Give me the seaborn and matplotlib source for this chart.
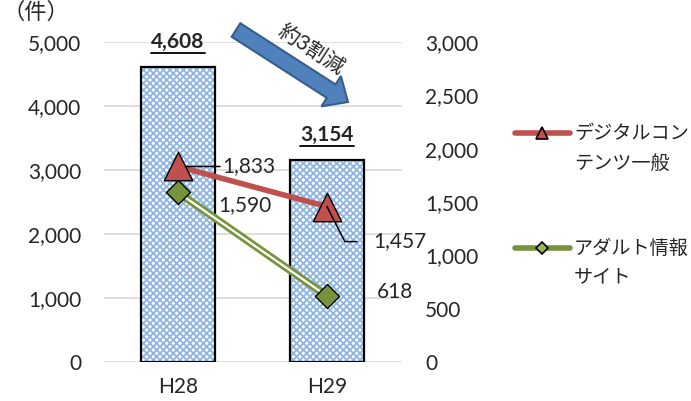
import matplotlib
matplotlib.use("Agg")
import matplotlib.pyplot as plt
from matplotlib.patches import FancyArrow
from matplotlib.lines import Line2D
import numpy as np
import pandas as pd
import seaborn as sns

# Data
years = ["H28", "H29"]
totals = [4608, 3154]             # total consultations (left axis)
digital = [1833, 1457]            # digital content in general (right axis)
adult = [1590, 618]               # adult information sites (right axis)
total_labels = ["4,608", "3,154"]
digital_labels = ["1,833", "1,457"]
adult_labels = ["1,590", "618"]
left_ticks = [0, 1000, 2000, 3000, 4000, 5000]
right_ticks = [0, 500, 1000, 1500, 2000, 2500, 3000]

sns.set_style("white")
plt.rcParams["font.family"] = ["Lato", "Noto Sans CJK JP", "DejaVu Sans"]
plt.rcParams["hatch.linewidth"] = 1.3

RED = "#C0504D"
GREEN = "#77933C"
HATCH_BLUE = "#8EB4E3"
FS = 15

W, H = 691, 401
fig = plt.figure(figsize=(W / 100, H / 100), dpi=100)
ax = fig.add_axes([103.5 / W, 1 - 362 / H, 298 / W, 320 / H])

df = pd.DataFrame({"year": years, "total": totals})

# Hatched bar fill, then a black outline on top
sns.barplot(data=df, x="year", y="total", ax=ax, order=years, width=0.5,
            color="white", edgecolor=HATCH_BLUE, linewidth=0, hatch="xxxxx",
            errorbar=None, zorder=2)
sns.barplot(data=df, x="year", y="total", ax=ax, order=years, width=0.5,
            fill=False, edgecolor="black", linewidth=1.6,
            errorbar=None, zorder=3)

ax.set_xlim(-0.5, 1.5)
ax.set_ylim(0, 5000)
ax.set_yticks(left_ticks)
ax.set_yticklabels([f"{v:,}" for v in left_ticks])
ax.set_xlabel("")
ax.set_ylabel("")
ax.grid(axis="y", color="#D9D9D9", linewidth=1.2, zorder=0)
ax.set_axisbelow(True)
for s in ax.spines.values():
    s.set_visible(False)
ax.tick_params(axis="y", length=0, pad=16, labelsize=FS)
ax.tick_params(axis="x", length=0, pad=11, labelsize=FS)

# Bar totals above each bar
total_texts = []
for i, (v, lab) in enumerate(zip(totals, total_labels)):
    t = ax.annotate(lab, xy=(i, v), xytext=(0, 25), textcoords="offset pixels",
                    ha="center", va="center", fontsize=FS, fontweight="bold")
    total_texts.append(t)

# Secondary axis with the two series
ax2 = ax.twinx()
pos = np.arange(len(years))
sns.lineplot(x=pos, y=digital, ax=ax2, color=RED, linewidth=4, zorder=3)
sns.lineplot(x=pos, y=adult, ax=ax2, color=GREEN, linewidth=5.5, zorder=3)
sns.lineplot(x=pos, y=adult, ax=ax2, color="white", linewidth=1.6, zorder=4)
sns.scatterplot(x=pos, y=digital, ax=ax2, marker="^", s=420, color=RED,
                edgecolor="black", linewidth=1, zorder=6)
sns.scatterplot(x=pos, y=adult, ax=ax2, marker="D", s=150, color=GREEN,
                edgecolor="black", linewidth=1, zorder=6)
ax2.set_xlim(-0.5, 1.5)
ax2.set_ylim(0, 3000)
ax2.set_yticks(right_ticks)
ax2.set_yticklabels([f"{v:,}" for v in right_ticks])
ax2.set_ylabel("")
for s in ax2.spines.values():
    s.set_visible(False)
ax2.tick_params(axis="y", length=0, pad=17, labelsize=FS)

lab_kw = dict(textcoords="offset pixels", fontsize=FS, va="center", ha="left", zorder=7)
leader = dict(arrowstyle="-", color="black", lw=1.1, shrinkA=0, shrinkB=0)

# Digital content labels with leader lines
ax2.annotate("", xy=(0, digital[0]), xytext=(42, 0), textcoords="offset pixels",
             arrowprops=leader, zorder=5)
ax2.annotate(digital_labels[0], xy=(0, digital[0]), xytext=(44, 0), **lab_kw)
ax2.annotate("", xy=(1, digital[1]), xytext=(30, -35), textcoords="offset pixels",
             arrowprops=dict(leader, connectionstyle="angle,angleA=0,angleB=-63,rad=0"),
             zorder=7)
ax2.annotate(digital_labels[1], xy=(1, digital[1]), xytext=(46, -35), **lab_kw)

# Adult site labels
ax2.annotate(adult_labels[0], xy=(0, adult[0]), xytext=(40, -13), **lab_kw)
ax2.annotate(adult_labels[1], xy=(1, adult[1]), xytext=(50, 4), **lab_kw)

# Overlay in pixel coordinates for the arrow, unit, legend
ov = fig.add_axes([0, 0, 1, 1])
ov.set_xlim(0, W)
ov.set_ylim(H, 0)
ov.axis("off")
ov.patch.set_alpha(0)

ov.text(2, 12, "（件）", fontsize=16, ha="left", va="center")

ov.add_patch(FancyArrow(236, 30, 112, 72, width=16, head_width=36, head_length=20,
                        length_includes_head=True, facecolor="#4F81BD",
                        edgecolor="#385D8A", linewidth=1.5))
ov.text(311, 50, "約3割減", fontsize=15, rotation=-33, rotation_mode="anchor",
        ha="center", va="center")

# Legend
LFS = 13.8
ov.add_line(Line2D([515, 570], [133, 133], color=RED, linewidth=4,
                   solid_capstyle="round"))
ov.plot([542], [133], marker="^", ms=8, color=RED, mec="black", mew=1.2)
ov.text(574, 133, "デジタルコン", fontsize=LFS, va="center")
ov.text(574, 163, "テンツ一般", fontsize=LFS, va="center")
ov.add_line(Line2D([515, 570], [248, 248], color=GREEN, linewidth=4,
                   solid_capstyle="round"))
ov.plot([542], [248], marker="D", ms=6, color="#9BBB59", mec="black", mew=1.2)
ov.text(574, 248, "アダルト情報", fontsize=LFS, va="center")
ov.text(574, 277, "サイト", fontsize=LFS, va="center")

# Underline the bar totals
fig.canvas.draw()
r = fig.canvas.get_renderer()
for t in total_texts:
    bb = t.get_window_extent(r)
    y = H - bb.y0 + 1
    ov.add_line(Line2D([bb.x0, bb.x1], [y, y], color="black", linewidth=1.3))

fig.savefig("out.png", dpi=100)
